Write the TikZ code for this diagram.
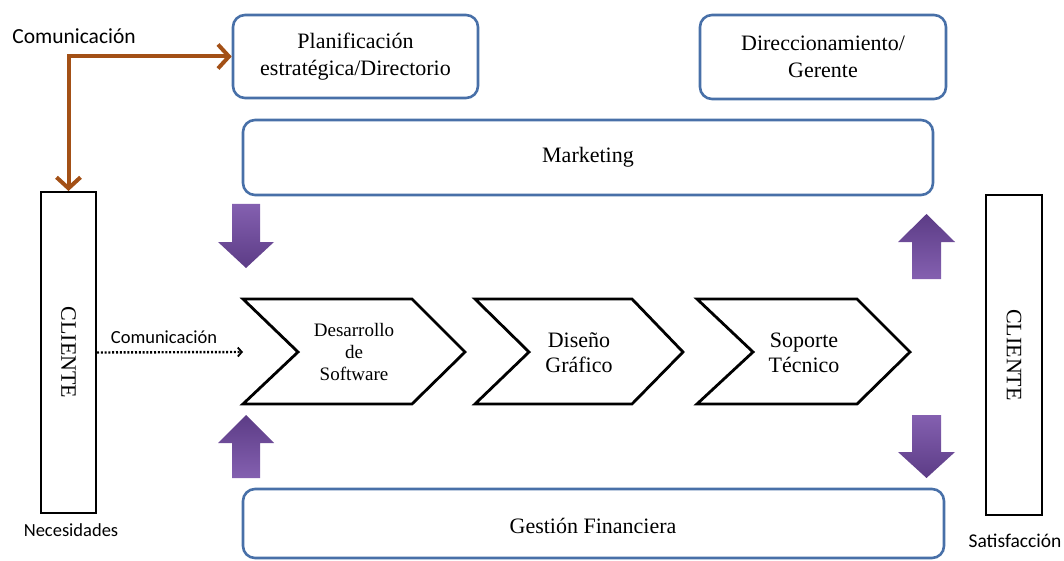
\documentclass[tikz,border=0pt]{standalone}
\usepackage{fontspec}
\setmainfont{Liberation Serif}
\newfontfamily\labelsans{Carlito}
\usetikzlibrary{arrows.meta}

\definecolor{boxblue}{RGB}{72,112,168}
\definecolor{linkbrown}{RGB}{163,80,22}
\definecolor{purplelight}{RGB}{132,96,176}
\definecolor{purpledark}{RGB}{92,60,134}

\tikzset{
  bluebox/.style={draw=boxblue, line width=2.6pt, rounded corners=12pt, fill=white,
    align=center, inner sep=0pt, font=\fontsize{22}{27}\selectfont},
  clientbox/.style={draw=black, line width=2pt, rotate=-90, inner sep=0pt,
    font=\fontsize{22}{26}\selectfont},
  chevronline/.style={draw=black, line width=2.8pt, line join=miter},
  chevtext/.style={align=center, inner sep=0pt},
  sanslabel/.style={inner sep=0pt, font=\labelsans\fontsize{19}{22}\selectfont},
  commlink/.style={draw=linkbrown, line width=4pt,
    arrows={Straight Barb[length=11pt,width=24pt]-Straight Barb[length=11pt,width=24pt]}},
  dotlink/.style={draw=black, line width=2.4pt, dash pattern=on 2pt off 1.8pt,
    -{Straight Barb[length=4pt,width=9pt,line width=1.8pt]}},
  downarrow/.style={top color=purplelight, bottom color=purpledark, draw=none},
  uparrow/.style={top color=purpledark, bottom color=purplelight, draw=none}
}

\begin{document}
\begin{tikzpicture}[x=1pt,y=-1pt]
\path[use as bounding box] (0,0) rectangle (1064,561);

% management boxes
\node[bluebox, minimum width=245, minimum height=83] (plan) at (355.5,56.5)
  {Planificación\\estratégica/Directorio};
\node[bluebox, minimum width=246, minimum height=84] (dir) at (823,57)
  {Direccionamiento/\\Gerente};
\node[bluebox, minimum width=690, minimum height=75] (mkt) at (588,157.5) {Marketing};
\node[bluebox, minimum width=701, minimum height=69] (fin) at (593.5,523.5) {};
\node[inner sep=0pt, font=\fontsize{22}{27}\selectfont] (fintext) at (593,526) {Gestión Financiera};

% client columns
\node[clientbox, minimum width=321, minimum height=55] (cliL) at (68.5,352.5) {CLIENTE};
\node[clientbox, minimum width=320, minimum height=56] (cliR) at (1014,355) {CLIENTE};
\node[sanslabel, font=\labelsans\fontsize{18.5}{22}\selectfont] (need) at (71,530) {Necesidades};
\node[sanslabel, font=\labelsans\fontsize{19.5}{22}\selectfont] (sat) at (1015,541) {Satisfacción};

% value chain chevrons
\draw[chevronline] (243,299) -- (412,299) -- (465,352) -- (412,404) -- (243,404) -- (298,352) -- cycle;
\draw[chevronline] (475,299) -- (632,299) -- (683,352) -- (632,404) -- (475,404) -- (529,352) -- cycle;
\draw[chevronline] (697,299) -- (857,299) -- (910,352) -- (857,404) -- (697,404) -- (753,352) -- cycle;
\coordinate (chevin) at (243,352);
\node[chevtext, font=\fontsize{19}{22}\selectfont] (soft) at (354,352) {Desarrollo\\de\\Software};
\node[chevtext, font=\fontsize{22}{25}\selectfont] (graf) at (579,353) {Diseño\\Gráfico};
\node[chevtext, font=\fontsize{22}{25}\selectfont] (tec) at (804,353) {Soporte\\Técnico};

% communication links
\node[sanslabel, font=\labelsans\fontsize{21.5}{24}\selectfont] (comtop) at (74,36) {Comunicación};
\draw[commlink] (cliL.west) |- (plan.west);
\node[sanslabel, font=\labelsans\fontsize{18.5}{20}\selectfont] (comin) at (164,337) {Comunicación};
\draw[dotlink] (cliL.north) -- (chevin);

% block arrows between support areas and the chain
\path[downarrow] (232,204) -- (260,204) -- (260,242) -- (274,242) -- (246,268)
  -- (218,242) -- (232,242) -- cycle;
\path[uparrow] (246,415) -- (274,443) -- (260,443) -- (260,478) -- (232,478)
  -- (232,443) -- (218,443) -- cycle;
\path[uparrow] (926.5,214) -- (955,242) -- (941,242) -- (941,279) -- (912,279)
  -- (912,242) -- (898,242) -- cycle;
\path[downarrow] (912,415) -- (941,415) -- (941,452) -- (955,452) -- (926.5,478)
  -- (898,452) -- (912,452) -- cycle;
\end{tikzpicture}
\end{document}
